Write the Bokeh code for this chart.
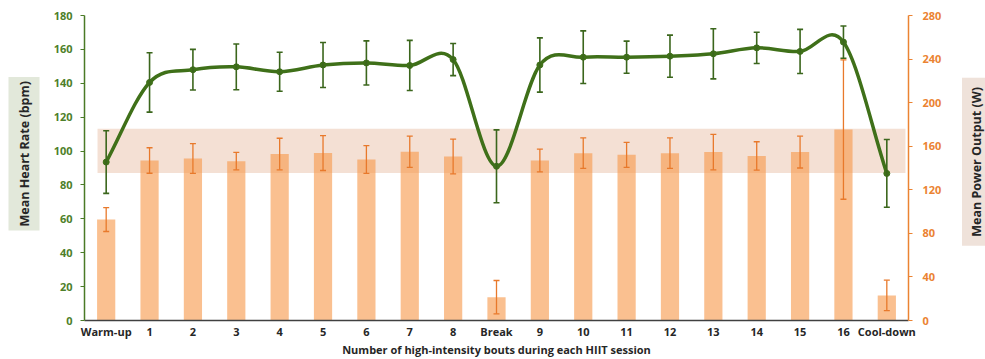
import math
from bokeh.plotting import figure
from bokeh.layouts import row
from bokeh.models import (FactorRange, Range1d, LinearAxis, FixedTicker, Whisker,
                          TeeHead, ColumnDataSource, Title, Div)
from bokeh.embed import file_html
from bokeh.resources import INLINE

# ---------------- data ----------------
categories = ["Warm-up", "1", "2", "3", "4", "5", "6", "7", "8", "Break",
              "9", "10", "11", "12", "13", "14", "15", "16", "Cool-down"]
heart_rate = [93.5, 140.5, 148.0, 149.7, 146.8, 150.8, 152.0, 150.5, 154.0, 91.0,
              150.8, 155.4, 155.4, 156.0, 157.4, 160.9, 158.8, 164.3, 86.8]
heart_rate_sd = [18.5, 17.5, 12.0, 13.5, 11.5, 13.3, 13.0, 14.8, 9.5, 21.5,
                 16.0, 15.5, 9.5, 12.4, 14.8, 9.2, 13.0, 9.5, 20.0]
power = [92.7, 146.9, 148.7, 146.3, 152.8, 153.7, 147.8, 154.9, 150.6, 21.4,
         146.9, 153.6, 152.1, 153.6, 154.6, 151.1, 154.6, 175.3, 23.0]
power_sd = [11.0, 11.7, 13.7, 8.0, 14.5, 16.0, 12.7, 14.4, 16.0, 15.3,
            10.5, 14.0, 11.5, 14.0, 16.3, 13.0, 14.6, 64.0, 14.0]
hr_ticks = [0, 20, 40, 60, 80, 100, 120, 140, 160, 180]
power_ticks = [0, 40, 80, 120, 160, 200, 240, 280]
band_hr = [87.0, 113.2]
hr_title = "Mean Heart Rate (bpm)"
power_title = "Mean Power Output (W)"
x_title = "Number of high-intensity bouts during each HIIT session"

FONT = "Open Sans"
GREEN = "#3F7019"
GREEN_AX = "#4A7A26"
ORANGE = "#E8792B"
ORANGE_AX = "#EB8332"

src = ColumnDataSource(dict(
    cat=categories, hr=heart_rate,
    hr_up=[h + s for h, s in zip(heart_rate, heart_rate_sd)],
    hr_lo=[h - s for h, s in zip(heart_rate, heart_rate_sd)],
    pw=power,
    pw_up=[v + s for v, s in zip(power, power_sd)],
    pw_lo=[v - s for v, s in zip(power, power_sd)],
))

p = figure(x_range=FactorRange(*categories), y_range=Range1d(0, 180),
           frame_width=824, frame_height=305,
           min_border_left=84, min_border_right=54, min_border_top=15, min_border_bottom=39,
           output_backend="svg", toolbar_location=None)
p.extra_y_ranges = {"power": Range1d(0, 280)}
p.outline_line_color = None
p.xgrid.grid_line_color = None
p.ygrid.grid_line_color = None

p.quad(left=[0.3], right=[18.93], bottom=[band_hr[0]], top=[band_hr[1]],
       fill_color="#F4E0D4", line_color=None)
p.vbar(x="cat", top="pw", width=0.42, y_range_name="power", source=src,
       fill_color="#F79646", fill_alpha=0.6, line_color=None)
p.add_layout(Whisker(base="cat", upper="pw_up", lower="pw_lo", source=src,
                     y_range_name="power", line_color=ORANGE, line_width=1.3,
                     level="annotation",
                     upper_head=TeeHead(size=6, line_color=ORANGE, line_width=1.3),
                     lower_head=TeeHead(size=6, line_color=ORANGE, line_width=1.3)))

# smoothed heart-rate line: bezier segments through the data points
n = len(heart_rate)
xs = [i + 0.5 for i in range(n)]
slopes = []
for i in range(n):
    if i == 0:
        slopes.append(heart_rate[1] - heart_rate[0])
    elif i == n - 1:
        slopes.append(heart_rate[-1] - heart_rate[-2])
    else:
        slopes.append((heart_rate[i + 1] - heart_rate[i - 1]) / 2.0)
bz = dict(x0=xs[:-1], y0=heart_rate[:-1], x1=xs[1:], y1=heart_rate[1:],
          cx0=[x + 1 / 3 for x in xs[:-1]],
          cy0=[heart_rate[i] + slopes[i] / 3 for i in range(n - 1)],
          cx1=[x - 1 / 3 for x in xs[1:]],
          cy1=[heart_rate[i + 1] - slopes[i + 1] / 3 for i in range(n - 1)])
p.bezier(source=ColumnDataSource(bz), x0="x0", y0="y0", x1="x1", y1="y1",
         cx0="cx0", cy0="cy0", cx1="cx1", cy1="cy1",
         line_color=GREEN, line_width=3.5)
p.add_layout(Whisker(base="cat", upper="hr_up", lower="hr_lo", source=src,
                     line_color="#3B661C", line_width=1.6, level="annotation",
                     upper_head=TeeHead(size=6, line_color="#3B661C", line_width=1.6),
                     lower_head=TeeHead(size=6, line_color="#3B661C", line_width=1.6)))
p.scatter(x="cat", y="hr", source=src, size=6, color=GREEN)

xa = p.xaxis[0]
xa.axis_line_color = "#404040"
xa.axis_line_width = 1.5
xa.major_tick_line_color = None
xa.minor_tick_line_color = None
xa.major_label_text_font = FONT
xa.major_label_text_font_style = "bold"
xa.major_label_text_font_size = "11px"
xa.major_label_text_color = "#262626"
xa.major_label_standoff = -3
xa.axis_label = x_title
xa.axis_label_text_font = FONT
xa.axis_label_text_font_style = "bold"
xa.axis_label_text_font_size = "11px"
xa.axis_label_text_color = "#262626"
xa.axis_label_standoff = 0

ya = p.yaxis[0]
ya.ticker = FixedTicker(ticks=hr_ticks)
ya.axis_line_color = GREEN_AX
ya.axis_line_width = 1.5
ya.major_tick_line_color = GREEN_AX
ya.major_tick_out = 4
ya.major_tick_in = 0
ya.minor_tick_line_color = None
ya.major_label_text_font = FONT
ya.major_label_text_font_style = "bold"
ya.major_label_text_font_size = "11px"
ya.major_label_text_color = "#4E7F2A"
ya.major_label_standoff = 8

ra = LinearAxis(y_range_name="power", ticker=FixedTicker(ticks=power_ticks))
ra.axis_line_color = ORANGE_AX
ra.axis_line_width = 1.5
ra.major_tick_line_color = ORANGE_AX
ra.major_tick_out = 4
ra.major_tick_in = 0
ra.minor_tick_line_color = None
ra.major_label_text_font = FONT
ra.major_label_text_font_style = "bold"
ra.major_label_text_font_size = "11px"
ra.major_label_text_color = ORANGE_AX
ra.major_label_standoff = 10
p.add_layout(ra, "right")

tl = Title(text=hr_title, align="left",
           text_font=FONT, text_font_style="bold", text_font_size="12.5px",
           text_color="#262626", background_fill_color="#E2E8DA",
           standoff=22, offset=90, padding=(4, 7))
p.add_layout(tl, "left")

div = Div(text=('<div style="margin-top:78px; display:inline-block; writing-mode:vertical-rl; '
                'transform:rotate(180deg); background-color:#EFE2DA; padding:9px 7px; '
                "font-family:'Open Sans'; font-weight:bold; font-size:12.5px; line-height:15px; "
                'color:#262626; white-space:nowrap;">' + power_title + '</div>'),
          width=23, height=359, margin=(0, 0, 0, 0))

layout = row(p, div, spacing=0)
open("out.html", "w").write(file_html(layout, INLINE))
